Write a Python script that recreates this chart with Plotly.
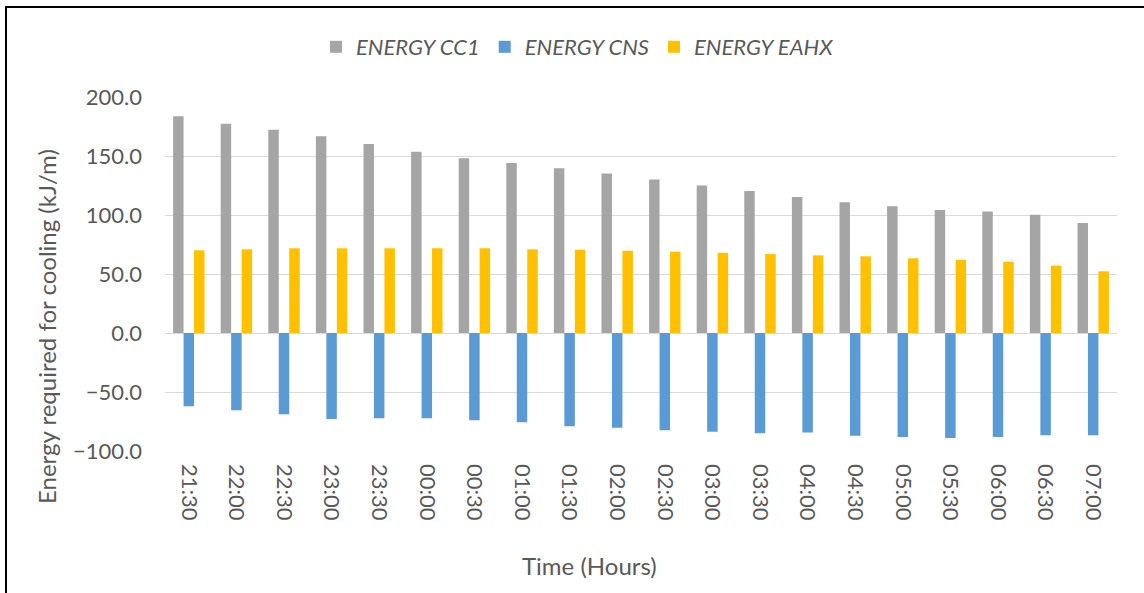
import plotly.graph_objects as go

times = ["21:30", "22:00", "22:30", "23:00", "23:30", "00:00", "00:30", "01:00", "01:30", "02:00",
         "02:30", "03:00", "03:30", "04:00", "04:30", "05:00", "05:30", "06:00", "06:30", "07:00"]
energy_cc1 = [183.6, 177.4, 172.3, 166.7, 160.2, 153.7, 148.0, 144.1, 139.6, 135.1,
              130.0, 124.9, 120.3, 115.3, 110.8, 107.4, 104.3, 102.9, 100.3, 93.2]
energy_cns = [-62.1, -65.5, -68.9, -72.8, -72.3, -72.3, -74.0, -75.7, -79.1, -80.2,
              -82.5, -83.6, -85.0, -84.4, -87.0, -88.1, -89.0, -88.1, -86.7, -86.7]
energy_eahx = [70.1, 70.9, 71.8, 71.8, 71.8, 71.8, 71.8, 70.9, 70.6, 69.7,
               68.9, 68.0, 66.9, 65.8, 65.0, 63.3, 62.1, 60.4, 57.1, 52.3]
y_ticks = [-100, -50, 0, 50, 100, 150, 200]

W, H = 1144, 593
L, R, T, B = 165, 27, 97, 142
pw, ph = W - L - R, H - T - B

def px(x):
    return (x - L) / pw

def py(y):
    return (H - B - y) / ph

FONT = "Lato, 'Open Sans', sans-serif"
TXT = "#595959"

fig = go.Figure()
fig.add_trace(go.Bar(name="ENERGY CC1", x=times, y=energy_cc1, marker=dict(color="#A5A5A5", line=dict(width=0))))
fig.add_trace(go.Bar(name="ENERGY CNS", x=times, y=energy_cns, marker=dict(color="#5B9BD5", line=dict(width=0))))
fig.add_trace(go.Bar(name="ENERGY EAHX", x=times, y=energy_eahx, marker=dict(color="#FFC000", line=dict(width=0))))

fig.update_layout(
    width=W, height=H,
    margin=dict(l=L, r=R, t=T, b=B, autoexpand=False),
    paper_bgcolor="white", plot_bgcolor="white",
    barmode="group", bargap=0.34, bargroupgap=0,
    font=dict(family=FONT, color=TXT, size=20),
    showlegend=True,
    legend=dict(orientation="h", x=px(316), xanchor="left", y=py(47), yanchor="middle",
                font=dict(family=FONT, size=22, color=TXT, style="italic"),
                bgcolor="rgba(0,0,0,0)", traceorder="normal"),
    xaxis=dict(type="category", tickangle=90, showgrid=False, showline=False, ticks="",
               tickfont=dict(family=FONT, size=22, color=TXT), ticklabelstandoff=12),
    yaxis=dict(range=[-100, 200], tickvals=y_ticks, tickformat=".1f", showgrid=True,
               gridcolor="#D9D9D9", gridwidth=1.3, zeroline=True, zerolinecolor="#D9D9D9",
               zerolinewidth=1.3, showline=False, ticks="", ticklabelstandoff=22,
               tickfont=dict(family=FONT, size=22, color=TXT)),
    annotations=[
        dict(text="Energy required for cooling (kJ/m)", textangle=-90, xref="paper", yref="paper",
             x=px(46), y=py(327), xanchor="center", yanchor="middle", showarrow=False,
             font=dict(family=FONT, size=24, color=TXT)),
        dict(text="Time (Hours)", xref="paper", yref="paper",
             x=px(589), y=py(565), xanchor="center", yanchor="middle", showarrow=False,
             font=dict(family=FONT, size=24, color=TXT)),
    ],
    shapes=[dict(type="rect", xref="paper", yref="paper", x0=px(6), x1=px(1160), y0=py(610), y1=py(7),
                 line=dict(color="black", width=2), fillcolor="rgba(0,0,0,0)", layer="above")],
)

fig.write_html("out.html", config={"displayModeBar": False},
               post_script="document.body.style.margin='0px';")
